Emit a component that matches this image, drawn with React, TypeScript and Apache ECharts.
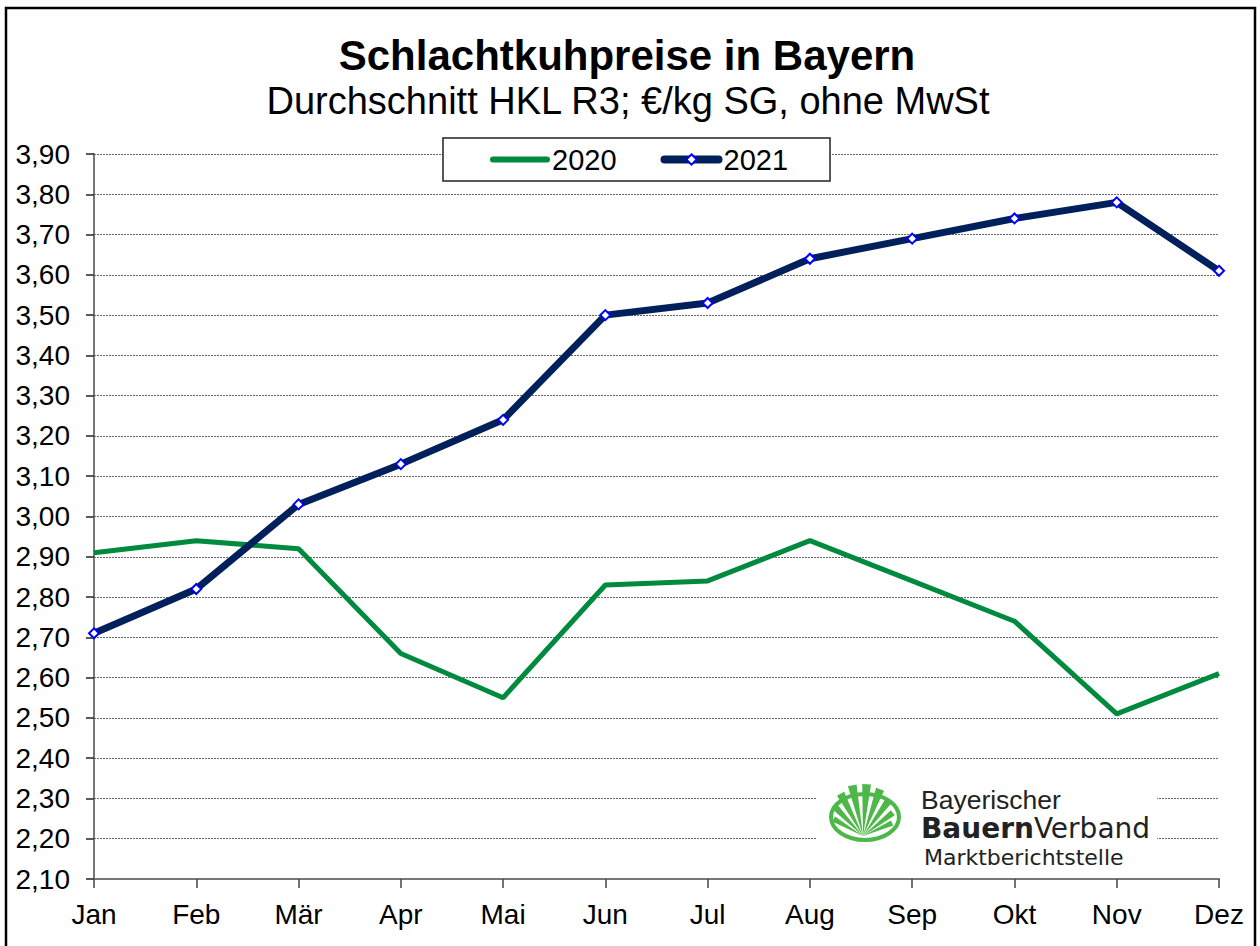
import React, { useEffect, useRef } from "react";
import * as echarts from "echarts";

const months = ["Jan", "Feb", "Mär", "Apr", "Mai", "Jun", "Jul", "Aug", "Sep", "Okt", "Nov", "Dez"];
const prices2020 = [2.91, 2.94, 2.92, 2.66, 2.55, 2.83, 2.84, 2.94, 2.84, 2.74, 2.51, 2.61];
const prices2021 = [2.71, 2.82, 3.03, 3.13, 3.24, 3.5, 3.53, 3.64, 3.69, 3.74, 3.78, 3.61];
const yMin = 2.1;
const yMax = 3.9;
const yStep = 0.1;

const FONT = "'Liberation Sans', Arial, Helvetica, sans-serif";
const WIDE = "'DejaVu Sans', 'Liberation Sans', sans-serif";

function logoRays() {
  const cx = 863;
  const cy = 836;
  const items: any[] = [];
  const rays = [
    [-60, 34],
    [-44, 40],
    [-28, 48],
    [-12, 52],
    [4, 52],
    [20, 50],
    [36, 44],
    [52, 38],
    [66, 32],
  ];
  rays.forEach(([deg, len]) => {
    const t = (deg * Math.PI) / 180;
    const w = 0.085;
    const p1 = [cx + Math.sin(t - w) * len, cy - Math.cos(t - w) * len];
    const p2 = [cx + Math.sin(t + w) * len, cy - Math.cos(t + w) * len];
    items.push({
      type: "polygon",
      shape: { points: [[cx, cy], p1, p2] },
      style: { fill: "#4db848" },
      z: 12,
    });
  });
  return items;
}

export default function App() {
  const ref = useRef<HTMLDivElement>(null);
  useEffect(() => {
    if (!ref.current) return;
    const chart = echarts.init(ref.current, null, { renderer: "svg" });
    chart.setOption({
      animation: false,
      backgroundColor: "#fff",
      title: [
        {
          text: "Schlachtkuhpreise in Bayern",
          left: 622,
          textAlign: "center",
          top: 29,
          textStyle: { fontFamily: FONT, fontSize: 42, fontWeight: "bold", color: "#000" },
        },
        {
          text: "Durchschnitt HKL R3; €/kg SG, ohne MwSt",
          left: 623,
          textAlign: "center",
          top: 77,
          textStyle: { fontFamily: FONT, fontSize: 38, fontWeight: "normal", color: "#000" },
        },
      ],
      legend: {
        left: 443,
        top: 138,
        padding: [7, 42, 7, 47],
        itemGap: 44,
        itemWidth: 54,
        itemHeight: 13,
        backgroundColor: "#fff",
        borderColor: "#222",
        borderWidth: 1.5,
        borderRadius: 0,
        textStyle: { fontFamily: FONT, fontSize: 29, color: "#000" },
        data: [
          { name: "2020", itemStyle: { opacity: 0 }, lineStyle: { width: 6, cap: "round" } },
          { name: "2021", lineStyle: { width: 8, cap: "round" } },
        ],
        z: 20,
      },
      grid: { left: 94, right: 41, top: 154, bottom: 67 },
      xAxis: {
        type: "category",
        data: months,
        boundaryGap: false,
        axisLine: { lineStyle: { color: "#777", width: 2 } },
        axisTick: { length: 9, lineStyle: { color: "#444", width: 1.5 } },
        axisLabel: { fontFamily: FONT, fontSize: 28, color: "#000", margin: 21 },
        splitLine: { show: false },
      },
      yAxis: {
        type: "value",
        min: yMin,
        max: yMax,
        interval: yStep,
        axisLine: { show: true, lineStyle: { color: "#777", width: 2 } },
        axisTick: { show: true, length: 8, lineStyle: { color: "#222", width: 1.5 } },
        axisLabel: {
          fontFamily: FONT,
          fontSize: 28,
          color: "#000",
          margin: 24,
          formatter: (v: number) => v.toFixed(2).replace(".", ","),
        },
        splitLine: { show: true, lineStyle: { color: "#666", width: 1, type: [2, 1] } },
      },
      series: [
        {
          name: "2020",
          type: "line",
          data: prices2020,
          symbol: "none",
          lineStyle: { color: "#008a3e", width: 5 },
          itemStyle: { color: "#008a3e" },
          z: 3,
        },
        {
          name: "2021",
          type: "line",
          data: prices2021,
          symbol: "diamond",
          symbolSize: 10,
          lineStyle: { color: "#00205b", width: 7 },
          itemStyle: { color: "#fff", borderColor: "#0000ff", borderWidth: 2 },
          z: 4,
        },
      ],
      graphic: [
        {
          type: "rect",
          shape: { x: 6, y: 8, width: 1249, height: 1000 },
          style: { fill: "none", stroke: "#000", lineWidth: 2.5 },
          z: 30,
          silent: true,
        },
        {
          type: "rect",
          shape: { x: 816, y: 780, width: 341, height: 92 },
          style: { fill: "#fff" },
          z: 10,
        },
        {
          type: "ellipse",
          shape: { cx: 865, cy: 817, rx: 34, ry: 23 },
          style: { fill: "none", stroke: "#4db848", lineWidth: 4 },
          z: 11,
        },
        ...logoRays(),
        {
          type: "text",
          left: 921,
          top: 786,
          style: { text: "Bayerischer", fontFamily: FONT, fontSize: 26.5, lineHeight: 24, fill: "#222" },
          z: 12,
        },
        {
          type: "text",
          left: 921,
          top: 814,
          style: {
            text: "{b|Bauern}{n|Verband}",
            rich: {
              b: { fontFamily: WIDE, fontSize: 28, lineHeight: 25, fontWeight: "bold", fill: "#222" },
              n: { fontFamily: WIDE, fontSize: 28, lineHeight: 25, fill: "#222" },
            },
          },
          z: 12,
        },
        {
          type: "text",
          left: 924,
          top: 846,
          style: { text: "Marktberichtstelle", fontFamily: WIDE, fontSize: 22, lineHeight: 21, fill: "#222" },
          z: 12,
        },
      ],
    });
    return () => chart.dispose();
  }, []);
  return (
    <div
      ref={ref}
      style={{ position: "fixed", left: 0, top: 0, width: 1260, height: 946 }}
    />
  );
}
